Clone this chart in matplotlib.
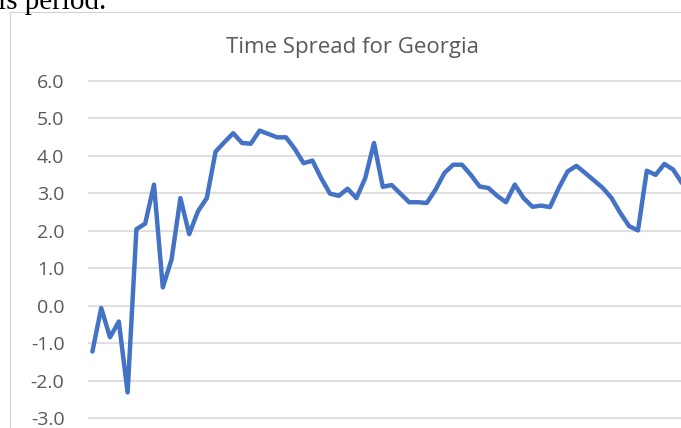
import matplotlib
matplotlib.use("Agg")
import matplotlib.pyplot as plt
from matplotlib.patches import Rectangle

title = "Time Spread for Georgia"
header_text = "is period."
spread = [
    -1.22, -0.06, -0.84, -0.42, -2.31, 2.04, 2.19, 3.23, 0.49, 1.24,
    2.87, 1.91, 2.52, 2.87, 4.11, 4.36, 4.60, 4.34, 4.32, 4.67,
    4.58, 4.49, 4.49, 4.18, 3.80, 3.87, 3.40, 2.99, 2.93, 3.12,
    2.87, 3.40, 4.34, 3.17, 3.22, 2.99, 2.76, 2.76, 2.74, 3.10,
    3.54, 3.76, 3.76, 3.49, 3.18, 3.14, 2.93, 2.76, 3.23, 2.87,
    2.64, 2.67, 2.63, 3.14, 3.58, 3.73, 3.54, 3.34, 3.14, 2.87,
    2.47, 2.12, 2.01, 3.60, 3.49, 3.78, 3.63, 3.27,
]
yticks = [-3, -2, -1, 0, 1, 2, 3, 4, 5, 6]
ytick_labels = [f"{v:.1f}" for v in yticks]

W, H = 681, 428
fig = plt.figure(figsize=(W / 100, H / 100), dpi=100)
fig.patch.set_facecolor("white")

# background axes for the chart border (cropped on right and bottom)
bg = fig.add_axes([0, 0, 1, 1])
bg.set_xlim(0, W)
bg.set_ylim(H, 0)
bg.axis("off")
border = "#d0d0d0"
bg.add_patch(Rectangle((9.5, 11.5), 1.8, H, facecolor=border, edgecolor="none"))
bg.add_patch(Rectangle((9.5, 11.5), W - 9.5, 1.8, facecolor=border, edgecolor="none"))

px_per_unit = 37.55
ext = 0.05
y_top = 80.7 - ext * px_per_unit
y_bot = 418.3 + ext * px_per_unit
left, right = 88, W
step = 8.8
ax = fig.add_axes([left / W, 1 - y_bot / H, (right - left) / W, (y_bot - y_top) / H])
ax.set_facecolor("none")
x = list(range(len(spread)))
ax.plot(x, spread, color="#4472C4", lw=3.2, solid_joinstyle="round",
        solid_capstyle="round")
ax.set_xlim(-0.5, (right - left) / step - 0.5)
ax.set_ylim(-3 - ext, 6 + ext)
for s in ax.spines.values():
    s.set_visible(False)
ax.set_xticks([])
ax.set_yticks(yticks)
ax.set_yticklabels(ytick_labels, fontfamily="Open Sans")
ax.grid(axis="y", color="#d9d9d9", lw=1.2)
ax.set_axisbelow(True)
ax.tick_params(axis="y", length=0, pad=17, labelsize=14, labelcolor="#595959")

fig.text(352 / W, 1 - 47 / H, title, ha="center", va="center",
         fontsize=16, color="#595959", fontfamily="Open Sans")
fig.text(-2 / W, 1 - 9 / H, header_text, ha="left", va="baseline",
         fontsize=21, color="black", fontfamily="Liberation Serif")

fig.savefig("out.png", dpi=100)
